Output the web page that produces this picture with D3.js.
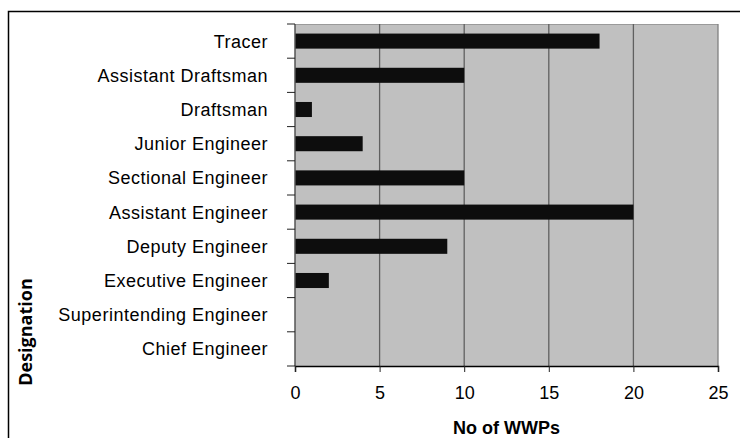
<!DOCTYPE html>
<html>
<head>
<meta charset="utf-8">
<script src="https://cdn.jsdelivr.net/npm/d3@7"></script>
<style>
  body { margin: 0; background: #fff; }
  svg { display: block; }
  text { font-family: "Liberation Sans", Arial, sans-serif; fill: #000; }
</style>
</head>
<body>
<div id="container"><svg></svg></div>
<script>
let width = 740, height = 438;
let padding = {'left': 295, 'right': 22, 'top': 24, 'bottom': 72};

// data
let designations = ['Tracer','Assistant Draftsman','Draftsman','Junior Engineer','Sectional Engineer',
                    'Assistant Engineer','Deputy Engineer','Executive Engineer','Superintending Engineer','Chief Engineer'];
let wwpCounts = [18, 10, 1, 4, 10, 20, 9, 2, 0, 0];
let xTicks = [0, 5, 10, 15, 20, 25];

let svg = d3.select('#container').select('svg')
    .attr('width', width)
    .attr('height', height);

// outer frame (right and bottom run off the picture)
svg.append('path')
    .attr('d', `M8.5,${height} V11.5 H${width}`)
    .attr('fill', 'none')
    .attr('stroke', '#000')
    .attr('stroke-width', 1.5);

let x0 = padding.left, x1 = width - padding.right;
let y0 = padding.top, y1 = height - padding.bottom;

let xScale = d3.scaleLinear().domain([0, 25]).range([x0, x1]);
let yScale = d3.scaleBand()
    .domain(designations)
    .range([y0, y1])
    .paddingInner(0.56)
    .paddingOuter(0.28);

// plot background
svg.append('rect')
    .attr('x', x0).attr('y', y0)
    .attr('width', x1 - x0).attr('height', y1 - y0)
    .attr('fill', '#c0c0c0');
svg.append('path')
    .attr('d', `M${x0},${y0 + 0.5} H${x1}`)
    .attr('stroke', '#9a9a9a').attr('stroke-width', 1.2);

// vertical gridlines
svg.append('g')
    .selectAll('line')
    .data(xTicks.slice(1))
    .join('line')
    .attr('x1', d => xScale(d)).attr('x2', d => xScale(d))
    .attr('y1', y0).attr('y2', y1)
    .attr('stroke', d => d === 25 ? '#808080' : '#606060')
    .attr('stroke-width', 1.3);

// bars
svg.append('g')
    .selectAll('rect')
    .data(designations)
    .join('rect')
    .attr('x', xScale(0))
    .attr('y', d => yScale(d))
    .attr('width', (d, i) => xScale(wwpCounts[i]) - xScale(0))
    .attr('height', yScale.bandwidth())
    .attr('fill', '#0d0d0d');

// left axis line + ticks between categories
let step = yScale.step();
let gap = step - yScale.bandwidth();
let bounds = designations.map(d => yScale(d) - gap / 2).concat([y1]);
svg.append('line')
    .attr('x1', x0).attr('x2', x0).attr('y1', y0).attr('y2', y1)
    .attr('stroke', '#555').attr('stroke-width', 1.5);
svg.append('g')
    .selectAll('line')
    .data(bounds)
    .join('line')
    .attr('x1', x0 - 8).attr('x2', x0)
    .attr('y1', d => d).attr('y2', d => d)
    .attr('stroke', '#222').attr('stroke-width', 1);

// category labels
svg.append('g')
    .selectAll('text')
    .data(designations)
    .join('text')
    .attr('x', 268)
    .attr('y', d => yScale(d) + yScale.bandwidth() / 2)
    .attr('dy', '0.36em')
    .attr('text-anchor', 'end')
    .style('font-size', '18px')
    .style('letter-spacing', '0.5px')
    .text(d => d);

// bottom axis
let xAxis = svg.append('g')
    .attr('transform', `translate(0,${y1})`)
    .call(d3.axisBottom(xScale).tickValues(xTicks).tickSize(6).tickPadding(14));
xAxis.select('.domain').attr('stroke', '#000').attr('stroke-width', 1.5);
xAxis.selectAll('.tick line').attr('stroke', '#222');
xAxis.selectAll('.tick text')
    .style('font-family', '"Liberation Sans", Arial, sans-serif')
    .style('font-size', '18px')
    .attr('fill', '#000');

// axis titles
svg.append('text')
    .attr('x', (x0 + x1) / 2)
    .attr('y', 434)
    .attr('text-anchor', 'middle')
    .style('font-size', '18px')
    .style('font-weight', 'bold')
    .text('No of WWPs');

svg.append('text')
    .attr('transform', 'translate(32,332) rotate(-90)')
    .attr('text-anchor', 'middle')
    .style('font-family', '"Open Sans", "DejaVu Sans", sans-serif')
    .style('font-size', '18px')
    .style('font-weight', 'bold')
    .text('Designation');
</script>
</body>
</html>
